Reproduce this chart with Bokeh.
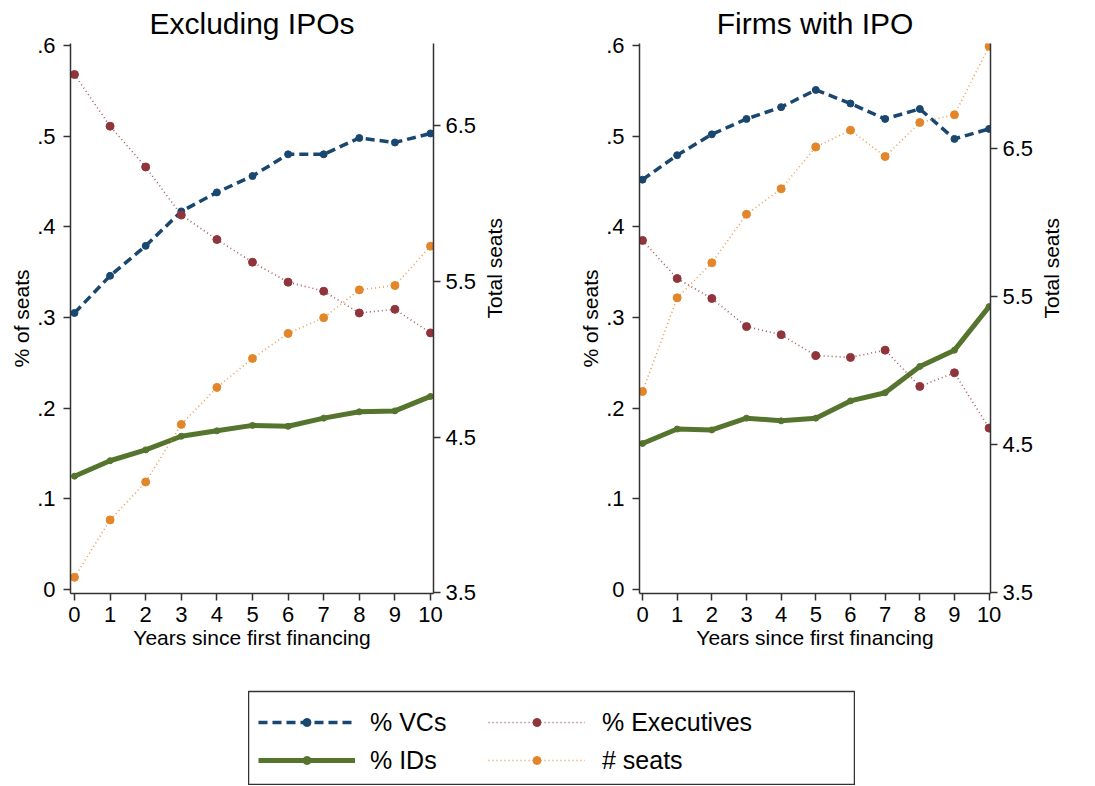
import math
from bokeh.plotting import figure
from bokeh.models import Range1d, LinearAxis, FixedTicker, Legend, LegendItem, Spacer
from bokeh.layouts import row, column
from bokeh.embed import file_html
from bokeh.resources import INLINE

years = list(range(11))
x_ticks = list(range(11))
left_ticks = [0, 0.1, 0.2, 0.3, 0.4, 0.5, 0.6]
left_tick_labels = ["0", ".1", ".2", ".3", ".4", ".5", ".6"]
right_ticks = [3.5, 4.5, 5.5, 6.5]
right_tick_labels = ["3.5", "4.5", "5.5", "6.5"]

# Panel 1: Excluding IPOs
ex_vcs = [0.305, 0.346, 0.379, 0.417, 0.438, 0.456, 0.480, 0.480, 0.498, 0.493, 0.503]
ex_ids = [0.125, 0.142, 0.154, 0.169, 0.175, 0.181, 0.180, 0.189, 0.196, 0.197, 0.213]
ex_exec = [0.568, 0.511, 0.466, 0.413, 0.386, 0.361, 0.339, 0.329, 0.305, 0.309, 0.283]
ex_seats = [3.598, 3.967, 4.211, 4.581, 4.819, 5.005, 5.166, 5.267, 5.446, 5.474, 5.727]

# Panel 2: Firms with IPO
ipo_vcs = [0.452, 0.479, 0.502, 0.519, 0.532, 0.551, 0.536, 0.519, 0.530, 0.497, 0.508]
ipo_ids = [0.161, 0.177, 0.176, 0.189, 0.186, 0.189, 0.208, 0.217, 0.246, 0.264, 0.312]
ipo_exec = [0.385, 0.343, 0.321, 0.290, 0.281, 0.258, 0.256, 0.264, 0.224, 0.239, 0.178]
ipo_seats = [4.858, 5.491, 5.728, 6.056, 6.228, 6.511, 6.624, 6.446, 6.676, 6.728, 7.191]

labels = ["% VCs", "% IDs", "% Executives", "# seats"]

NAVY = "#1a476f"
MAROON = "#90353b"
GREEN = "#55752f"
ORANGE = "#e3862a"
AXC = "#333333"
FONT = "Liberation Sans"


def style_axis(ax, ticks, tick_labels, label):
    ax.ticker = FixedTicker(ticks=ticks)
    ax.major_label_overrides = {t: l for t, l in zip(ticks, tick_labels)}
    ax.axis_label = label
    ax.axis_label_text_font = FONT
    ax.axis_label_text_font_size = "21px"
    ax.axis_label_text_font_style = "normal"
    ax.axis_label_text_color = "black"
    ax.major_label_text_font = FONT
    ax.major_label_text_font_size = "22px"
    ax.major_label_text_color = "black"
    ax.axis_line_color = AXC
    ax.axis_line_width = 1.5
    ax.major_tick_line_color = AXC
    ax.major_tick_line_width = 1.5
    ax.major_tick_out = 7
    ax.major_tick_in = 0
    ax.minor_tick_line_color = None


def draw_series(p, vcs, ids, exe, seats, right_name):
    p.line(years, vcs, line_color=NAVY, line_width=3.5, line_dash="9 5")
    p.scatter(years, vcs, size=7, color=NAVY)
    p.line(years, ids, line_color=GREEN, line_width=5)
    p.scatter(years, ids, size=6, color=GREEN)
    p.line(years, exe, line_color=MAROON, line_width=1.6, line_dash="1 3", line_alpha=0.8)
    p.scatter(years, exe, size=8, color=MAROON)
    kw = {"y_range_name": right_name} if right_name else {}
    p.line(years, seats, line_color=ORANGE, line_width=1.6, line_dash="1 3", line_alpha=0.8, **kw)
    p.scatter(years, seats, size=8, color=ORANGE, **kw)


def make_panel(title, vcs, ids, exe, seats, width, bl, br, xr, yr_right):
    p = figure(width=width, height=678, min_border_left=bl, min_border_right=br,
               min_border_top=43, min_border_bottom=85,
               x_range=Range1d(*xr), y_range=Range1d(-0.0044, 0.6022),
               toolbar_location=None, output_backend="svg")
    p.title.text = title
    p.title.align = "center"
    p.title.text_font = FONT
    p.title.text_font_size = "30px"
    p.title.text_font_style = "normal"
    p.title.text_color = "black"
    p.title.standoff = 8
    p.outline_line_color = None
    p.grid.visible = False
    p.extra_y_ranges = {"seats": Range1d(*yr_right)}
    ra = LinearAxis(y_range_name="seats")
    p.add_layout(ra, "right")
    style_axis(p.xaxis[0], x_ticks, [str(t) for t in x_ticks], "Years since first financing")
    p.xaxis[0].major_label_standoff = 6
    p.xaxis[0].axis_label_standoff = 1
    style_axis(p.yaxis[0], left_ticks, left_tick_labels, "% of seats")
    p.yaxis[0].major_label_standoff = 8
    p.yaxis[0].axis_label_standoff = 1
    style_axis(ra, right_ticks, right_tick_labels, "Total seats")
    ra.major_label_standoff = 5
    ra.axis_label_standoff = 15
    try:
        ra.axis_label_orientation = math.pi / 2
    except Exception:
        pass
    draw_series(p, vcs, ids, exe, seats, "seats")
    return p


p1 = make_panel("Excluding IPOs", ex_vcs, ex_ids, ex_exec, ex_seats, 562, 70, 129,
                (-0.112, 10.084), (3.494, 7.03))
p2 = make_panel("Firms with IPO", ipo_vcs, ipo_ids, ipo_exec, ipo_seats, 527, 77, 99,
                (-0.087, 10.04), (3.493, 7.21))

# Legend figure (series drawn off-view so only the legend glyphs show)
lf = figure(width=607, height=107, min_border_top=13, min_border_left=0,
            min_border_right=0, min_border_bottom=0,
            x_range=Range1d(-100, -99), y_range=Range1d(-100, -99),
            x_axis_location=None, y_axis_location=None,
            toolbar_location=None, output_backend="svg")
lf.grid.visible = False
lf.outline_line_color = AXC
lf.outline_line_width = 1.5
lf.extra_y_ranges = {"seats": Range1d(-100, -99)}

r_vl = lf.line(years, ex_vcs, line_color=NAVY, line_width=3.5, line_dash="9 5")
r_vs = lf.scatter(years, ex_vcs, size=7, color=NAVY)
r_il = lf.line(years, ex_ids, line_color=GREEN, line_width=5)
r_is = lf.scatter(years, ex_ids, size=6, color=GREEN)
r_el = lf.line(years, ex_exec, line_color=MAROON, line_width=1.6, line_dash="1 3", line_alpha=0.8)
r_es = lf.scatter(years, ex_exec, size=8, color=MAROON)
r_sl = lf.line(years, ex_seats, line_color=ORANGE, line_width=1.6, line_dash="1 3", line_alpha=0.8,
               y_range_name="seats")
r_ss = lf.scatter(years, ex_seats, size=8, color=ORANGE, y_range_name="seats")


def make_legend(items, loc, standoff):
    return Legend(items=items, location=loc, orientation="vertical",
                  glyph_width=97, glyph_height=20, label_height=30, spacing=8,
                  padding=0, margin=0, border_line_color=None,
                  background_fill_alpha=0, label_standoff=standoff,
                  label_text_font=FONT, label_text_font_size="25px",
                  label_text_color="black")


lg1 = make_legend([LegendItem(label=labels[0], renderers=[r_vl, r_vs]),
                   LegendItem(label=labels[1], renderers=[r_il, r_is])], (10, 10), 15)
lg2 = make_legend([LegendItem(label=labels[2], renderers=[r_el, r_es]),
                   LegendItem(label=labels[3], renderers=[r_sl, r_ss])], (240, 10), 17)
lf.add_layout(lg1, "center")
lf.add_layout(lg2, "center")

layout = column(row(p1, p2), row(Spacer(width=248), lf), spacing=0)
open("out.html", "w").write(file_html(layout, INLINE))
